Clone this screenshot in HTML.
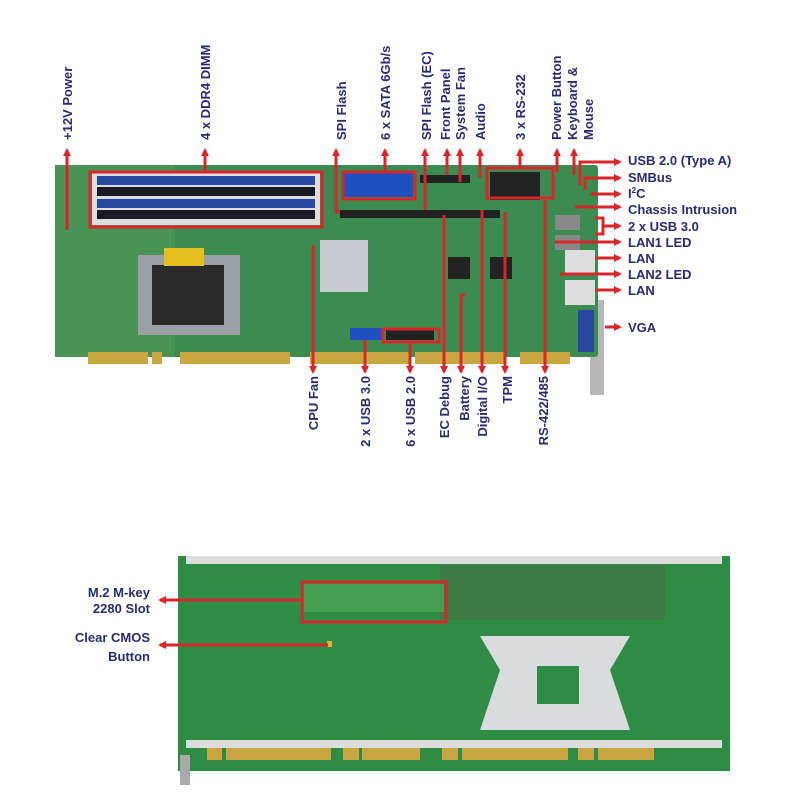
<!DOCTYPE html>
<html><head><meta charset="utf-8"><style>html,body{margin:0;padding:0;background:#fff}svg{display:block}</style></head><body>
<svg width="800" height="800" viewBox="0 0 800 800" xmlns="http://www.w3.org/2000/svg" font-family="Liberation Sans, sans-serif" font-weight="bold" font-size="13">
<defs>
<marker id="a" markerWidth="8" markerHeight="8" refX="6" refY="4" orient="auto" markerUnits="userSpaceOnUse"><path d="M0,0 L8,4 L0,8 z" fill="#d8262a"/></marker>
</defs>
<!-- TOP BOARD -->
<rect x="590" y="300" width="14" height="95" fill="#b8b8b8"/>
<rect x="55" y="165" width="543" height="192" fill="#3c8c52" rx="3"/>
<rect x="55" y="165" width="120" height="192" fill="#4a9455"/>
<g fill="#c9a642"><rect x="88" y="352" width="60" height="12"/><rect x="152" y="352" width="10" height="12"/><rect x="180" y="352" width="110" height="12"/><rect x="310" y="352" width="100" height="12"/><rect x="415" y="352" width="90" height="12"/><rect x="520" y="352" width="50" height="12"/></g>
<rect x="92" y="172" width="228" height="53" fill="#ddd"/>
<g><rect x="97" y="176" width="218" height="9" fill="#2848a0"/><rect x="97" y="187" width="218" height="9" fill="#1a1a22"/><rect x="97" y="199" width="218" height="9" fill="#2848a0"/><rect x="97" y="210" width="218" height="9" fill="#1a1a22"/></g>
<rect x="138" y="255" width="102" height="80" fill="#9aa0a4"/><rect x="152" y="265" width="72" height="60" fill="#2a2a2a"/>
<rect x="164" y="248" width="40" height="18" fill="#e6c020"/>
<rect x="320" y="240" width="48" height="52" fill="#c8ccd0"/>
<rect x="343" y="172" width="70" height="25" fill="#2050c0"/>
<rect x="340" y="210" width="160" height="8" fill="#222"/>
<rect x="420" y="175" width="50" height="8" fill="#222"/>
<rect x="490" y="172" width="50" height="28" fill="#222"/>
<rect x="350" y="328" width="32" height="12" fill="#2050c0"/>
<rect x="386" y="330" width="48" height="10" fill="#222"/>
<rect x="448" y="257" width="22" height="22" fill="#222"/><rect x="490" y="257" width="22" height="22" fill="#222"/>
<rect x="555" y="215" width="25" height="15" fill="#888"/><rect x="555" y="235" width="25" height="15" fill="#888"/>
<rect x="565" y="250" width="30" height="25" fill="#ddd"/><rect x="565" y="280" width="30" height="25" fill="#ddd"/>
<rect x="578" y="310" width="16" height="42" fill="#2848a0"/>
<!-- BOTTOM BOARD -->
<rect x="178" y="556" width="552" height="215" fill="#2e8c44"/>
<rect x="186" y="556" width="536" height="8" fill="#ddd"/>
<rect x="186" y="740" width="536" height="8" fill="#ddd"/>
<g fill="#c9a642"><rect x="207" y="748" width="15" height="12"/><rect x="226" y="748" width="105" height="12"/><rect x="343" y="748" width="16" height="12"/><rect x="362" y="748" width="58" height="12"/><rect x="442" y="748" width="16" height="12"/><rect x="462" y="748" width="106" height="12"/><rect x="578" y="748" width="16" height="12"/><rect x="598" y="748" width="56" height="12"/></g>
<rect x="180" y="755" width="10" height="30" fill="#aaa"/>
<rect x="440" y="565" width="225" height="55" fill="#3d7a44"/>
<path d="M480 636 H630 L610 670 L630 730 H480 L500 670 Z" fill="#d9dcdc"/>
<rect x="537" y="666" width="42" height="38" fill="#2e8c44"/>
<rect x="304" y="584" width="140" height="28" fill="#44a050"/>
<rect x="327" y="641" width="5" height="6" fill="#e0b040"/>
<g fill="none" stroke="#d8262a" stroke-width="3">
<rect x="90" y="172" width="232" height="55"/>
<rect x="343" y="172" width="72" height="27"/>
<rect x="487" y="168" width="66" height="30"/>
<rect x="383" y="329" width="56" height="13"/>
<rect x="302" y="582" width="144" height="40"/>
</g>
<g stroke="#d8262a" stroke-width="3" fill="none" marker-end="url(#a)">
<path d="M67 230 V150"/><path d="M205 172 V150"/><path d="M340 212 H336 V150"/><path d="M385 172 V150"/><path d="M425 210 V150"/><path d="M447 175 V150"/><path d="M460 182 V150"/><path d="M480 178 V150"/><path d="M520 168 V150"/><path d="M557 172 V150"/><path d="M574 175 V150"/>
<path d="M313 245 V372"/><path d="M365 340 V372"/><path d="M410 342 V372"/><path d="M444 215 V372"/><path d="M465 295 H461 V372"/><path d="M482 210 V372"/><path d="M505 212 V372"/><path d="M545 200 V372"/>
<path d="M580 185 V162 H620"/><path d="M585 190 V178 H620"/><path d="M590 194 H620"/><path d="M575 207 H620"/><path d="M595 218 H603 V234 H595 M603 226 H620"/><path d="M555 242 H620"/><path d="M595 258 H620"/><path d="M560 274 H620"/><path d="M595 290 H620"/><path d="M605 327 H620"/>
<path d="M302 600 H160"/><path d="M328 645 H160"/>
</g>
<g fill="#2a2a72">
<g transform="rotate(-90)" text-anchor="start">
<text x="-140" y="72">+12V Power</text><text x="-140" y="210">4 x DDR4 DIMM</text><text x="-140" y="346">SPI Flash</text><text x="-140" y="390">6 x SATA 6Gb/s</text><text x="-140" y="431">SPI Flash (EC)</text><text x="-140" y="450">Front Panel</text><text x="-140" y="465">System Fan</text><text x="-140" y="485">Audio</text><text x="-140" y="525">3 x RS-232</text><text x="-140" y="561">Power Button</text><text x="-140" y="577">Keyboard &amp;</text><text x="-140" y="593">Mouse</text>
</g>
<g transform="rotate(-90)" text-anchor="end">
<text x="-376" y="318">CPU Fan</text><text x="-376" y="370">2 x USB 3.0</text><text x="-376" y="415">6 x USB 2.0</text><text x="-376" y="449">EC Debug</text><text x="-376" y="469">Battery</text><text x="-376" y="487">Digital I/O</text><text x="-376" y="512">TPM</text><text x="-376" y="548">RS-422/485</text>
</g>
<text x="628" y="165">USB 2.0 (Type A)</text><text x="628" y="182">SMBus</text><text x="628" y="198">I<tspan font-size="8" dy="-5">2</tspan><tspan dy="5">C</tspan></text><text x="628" y="214">Chassis Intrusion</text><text x="628" y="231">2 x USB 3.0</text><text x="628" y="247">LAN1 LED</text><text x="628" y="263">LAN</text><text x="628" y="279">LAN2 LED</text><text x="628" y="295">LAN</text><text x="628" y="332">VGA</text>
<g text-anchor="end"><text x="150" y="597">M.2 M-key</text><text x="150" y="613">2280 Slot</text><text x="150" y="642">Clear CMOS</text><text x="150" y="661">Button</text></g>
</g>
</svg>
</body></html>
